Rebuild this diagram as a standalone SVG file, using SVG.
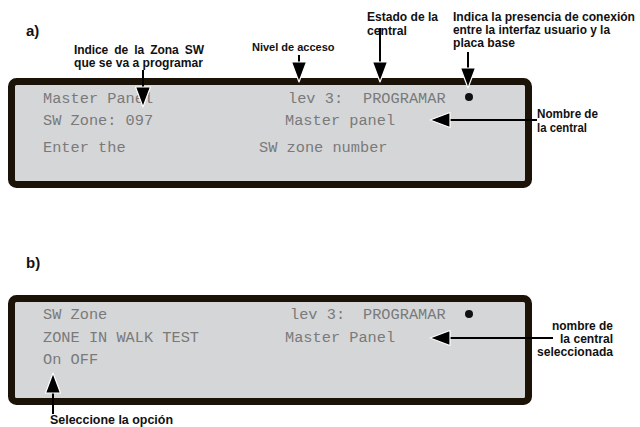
<svg xmlns="http://www.w3.org/2000/svg" width="640" height="427" viewBox="0 0 640 427">
<style>
.lbl{font-family:"Liberation Sans",Arial,sans-serif;font-weight:bold;font-size:12px;fill:#111}
.big{font-family:"Liberation Sans",Arial,sans-serif;font-weight:bold;font-size:15px;fill:#111}
.lcd{font-family:"Liberation Mono","DejaVu Sans Mono",monospace;font-size:15.3px;fill:#7a7a7a}
.frame{fill:#d5d6d8;stroke:#1c1308;stroke-width:7}
.ln{stroke:#000;stroke-width:2;fill:none;marker-end:url(#ah)}
.dot{fill:#111}
</style>
<defs>
<marker id="ah" markerUnits="userSpaceOnUse" viewBox="-1 -9 23 18" refX="0" refY="0" markerWidth="23" markerHeight="18" orient="auto" overflow="visible">
<path d="M0,-7.5 L20,0 L0,7.5 Z" fill="#000" stroke="#fff" stroke-width="1.2" stroke-linejoin="round"/>
</marker>
</defs>
<rect width="640" height="427" fill="#fff"/>
<text class="big" x="26" y="36">a)</text>
<text class="big" x="26" y="268">b)</text>
<g id="panelA">
<rect class="frame" x="11.5" y="81.5" width="517" height="103" rx="5"/>
<text class="lcd" x="43" y="103">Master Panel</text>
<text class="lcd" x="288" y="103">lev 3:</text>
<text class="lcd" x="363" y="103">PROGRAMAR</text>
<circle class="dot" cx="469" cy="97" r="4"/>
<text class="lcd" x="43" y="125">SW Zone: 097</text>
<text class="lcd" x="285" y="125">Master panel</text>
<text class="lcd" x="43" y="152">Enter the</text>
<text class="lcd" x="259" y="152">SW zone number</text>
</g>
<g id="panelB">
<rect class="frame" x="11.5" y="298.5" width="517" height="103" rx="5"/>
<text class="lcd" x="43" y="319">SW Zone</text>
<text class="lcd" x="290" y="319">lev 3:</text>
<text class="lcd" x="363" y="319">PROGRAMAR</text>
<circle class="dot" cx="469" cy="314" r="4"/>
<text class="lcd" x="43" y="342">ZONE IN WALK TEST</text>
<text class="lcd" x="285" y="342">Master Panel</text>
<text class="lcd" x="43" y="364">On OFF</text>
</g>
<g id="labels">
<text class="lbl" x="74" y="54" word-spacing="3" textLength="130" lengthAdjust="spacing">Indice de la Zona SW</text>
<text class="lbl" x="74" y="67" textLength="129" lengthAdjust="spacingAndGlyphs">que se va a programar</text>
<text class="lbl" x="252" y="51" font-size="11" style="font-size:11px">Nivel de acceso</text>
<text class="lbl" x="367" y="21" textLength="71" lengthAdjust="spacingAndGlyphs">Estado de la</text>
<text class="lbl" x="367" y="35" textLength="40" lengthAdjust="spacingAndGlyphs">central</text>
<text class="lbl" x="453" y="21" textLength="182" lengthAdjust="spacingAndGlyphs">Indica la presencia de conexión</text>
<text class="lbl" x="453" y="34" textLength="157" lengthAdjust="spacingAndGlyphs">entre la interfaz usuario y la</text>
<text class="lbl" x="453" y="47" textLength="62" lengthAdjust="spacingAndGlyphs">placa base</text>
<text class="lbl" x="537" y="118" textLength="61" lengthAdjust="spacingAndGlyphs">Nombre de</text>
<text class="lbl" x="537" y="132" textLength="50" lengthAdjust="spacingAndGlyphs">la central</text>
<text class="lbl" x="552" y="330" textLength="61" lengthAdjust="spacingAndGlyphs">nombre de</text>
<text class="lbl" x="560" y="343" textLength="53" lengthAdjust="spacingAndGlyphs">la central</text>
<text class="lbl" x="537" y="356" textLength="76" lengthAdjust="spacingAndGlyphs">seleccionada</text>
<text class="lbl" x="50" y="424" textLength="123" lengthAdjust="spacingAndGlyphs">Seleccione la opción</text>
</g>
<g id="connectors">
<path class="ln" d="M143,70 V87"/>
<path class="ln" d="M299,55 V62"/>
<path class="ln" d="M380,28 V62"/>
<path class="ln" d="M468,52 V68"/>
<path class="ln" d="M537,120 H450"/>
<path class="ln" d="M553,338 H450"/>
<path class="ln" d="M53,414 V393"/>
</g>
</svg>
